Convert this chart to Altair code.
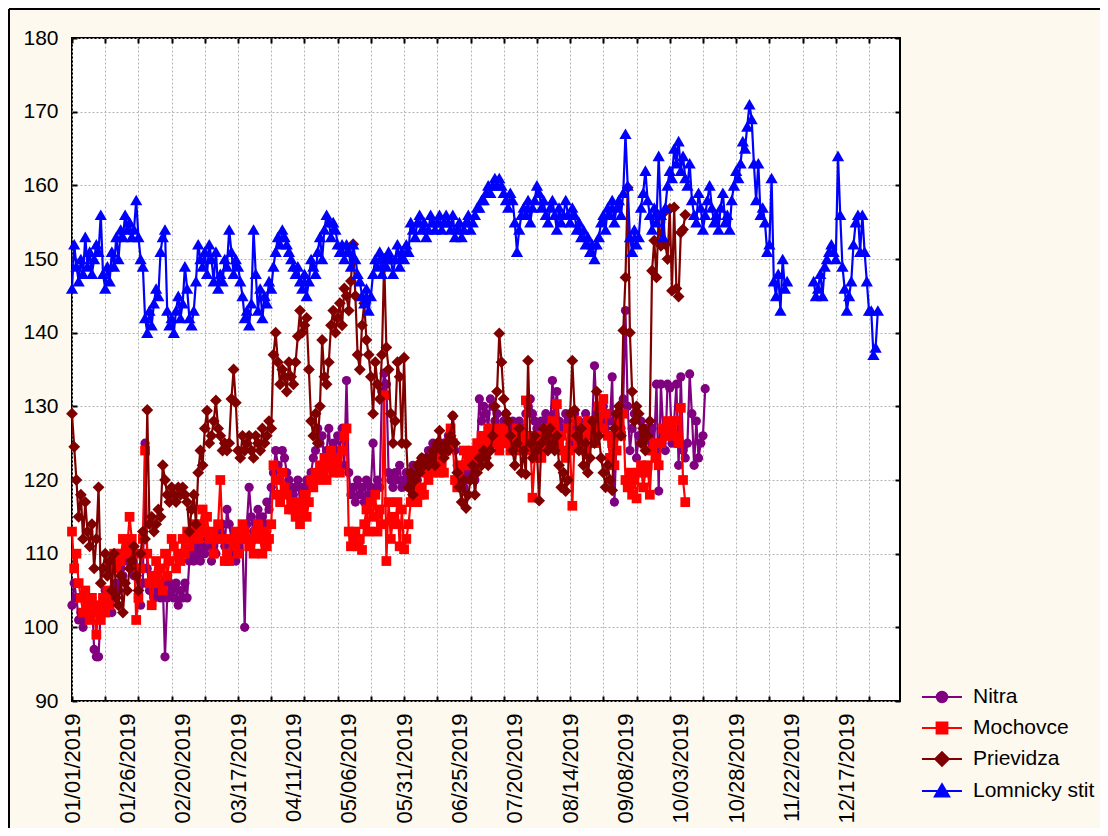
import altair as alt
import pandas as pd

# ---------------- data (daily values, day 0 = 01/01/2019) ----------------
start_year, start_month, start_day = 2019, 0, 1

nitra = [
    103, 106, 104, 101, 102, 100, 101, 103, 102, 104,
    97, 96, 96, 103, 104, 105, 103, 104, 102, 104,
    106, 105, 108, 107, 110, 109, 112, 108, 107, 110,
    104, 103, 106, 125, 108, 105, 103, 104, 107, 105,
    104, 106, 96, 104, 106, 105, 104, 106, 103, 105,
    104, 106, 104, 109, 110, 109, 111, 110, 109, 111,
    110, 112, 111, 109, 111, 110, 112, 113, 114, 111,
    116, 114, 112, 110, 109, 111, 113, 112, 100, 114,
    119, 115, 113, 114, 116, 112, 115, 114, 117, 116,
    119, 121, 124, 122, 120, 124, 123, 121, 120, 119,
    118, 119, 120, 117, 119, 118, 120, 119, 121, 123,
    124, 127, 125, 126, 122, 124, 127, 123, 125, 124,
    126, 124, 127, 122, 133.5, 121, 118, 119, 117, 120,
    118, 119, 117, 120, 118, 119, 125, 118, 120, 119,
    132, 134.5, 133, 121, 120, 119, 121, 120, 122, 119,
    120, 121, 119, 120, 122, 121, 120, 122, 123, 121,
    122, 124, 123, 125, 124, 123, 125, 124, 125, 124,
    126, 125, 128.7, 124, 122, 121, 120, 119, 121, 120,
    121, 122, 120, 124, 131, 128, 130, 129, 127, 131,
    130, 128, 129, 127, 126, 128, 129, 127, 126, 128,
    125, 127, 128, 126, 127, 129, 130, 131, 129, 128,
    127, 126, 128, 127, 129, 128, 127, 133.5, 129, 132,
    128, 126, 127, 129, 128, 125, 127, 129, 126, 128,
    127, 126, 129, 128, 127, 128, 135.5, 129, 127, 128,
    130, 127, 129, 128, 134, 117, 126, 128, 127, 131,
    143, 130, 124, 127, 129, 123, 126, 128, 125, 127,
    126, 124, 127, 125, 133, 118.5, 133, 127, 124, 133,
    132.5, 125, 128, 133, 122, 134, 124, 123, 125, 134.4,
    129, 122, 128, 123, 125, 126, 132.4,
]

mochovce = [
    113, 108, 110, 106, 104, 102, 105, 103, 101, 104,
    102, 99, 103, 101, 104, 102, 105, 103, 108, 110,
    108, 110, 109, 112, 110, 111, 115, 112, 110, 101,
    104, 108, 112, 124, 110, 106, 103, 107, 109, 106,
    108, 105, 110, 107, 109, 112, 111, 108, 110, 109,
    112, 110, 113, 111, 112, 114, 113, 112, 114, 116,
    113, 115, 112, 113, 110, 112, 114, 120, 112, 109,
    110, 109, 112, 111, 113, 110, 112, 114, 113, 112,
    111, 112, 110, 113, 114, 112, 110, 113, 111, 112,
    114, 122, 120, 118, 117, 121, 119, 118, 116, 117,
    116, 115, 117, 114, 116, 118, 115, 117, 120, 119,
    121, 120, 122, 121, 123, 120, 122, 124, 121, 122,
    123, 121, 124, 126, 127, 113, 111, 112, 113, 111,
    112, 110.5, 114, 116, 113, 117, 115, 118, 113, 116,
    114, 131.5, 109, 117, 112, 115, 114, 117, 111, 116,
    110.6, 112, 114, 117, 118, 119, 117, 118, 119, 118,
    121, 120, 122, 121, 122, 123, 121, 122, 121, 124,
    125, 127, 125, 120, 119, 121, 122, 124, 122, 123,
    122, 124, 123, 125, 124, 126, 125, 124, 127, 126,
    125, 127, 126, 124, 125, 127, 126, 125, 124, 126,
    125, 127, 126, 124, 125, 130.8, 124, 126, 117.6, 123,
    126, 125, 123, 124, 127, 125, 126, 128, 127, 130.3,
    125, 126, 124, 123, 127, 124, 116.5, 126, 128, 125,
    127, 126, 124, 128, 127, 126, 125, 128, 130, 127,
    131, 129, 126, 123, 125, 122, 124, 128, 126, 129,
    120, 119, 121, 118, 120, 117.5, 121, 122, 119, 121,
    122, 118, 124, 125, 123, 122, 125, 127, 126, 128,
    126, 127, 128, 126, 125, 129.8, 120, 117,
]

prievidza = [
    129, 124.5, 120, 115, 118, 112, 117, 113, 111, 114,
    108, 112, 119, 106, 108, 110, 107, 109, 105, 110,
    104, 103, 107, 102, 106, 105, 108, 109, 111, 107,
    105, 110, 113, 112, 129.5, 114, 115, 113, 114, 116,
    115, 122, 120, 118, 117, 119, 118, 117, 119, 118,
    119, 118, 117, 113, 116, 118, 114, 121, 124, 122,
    127, 129.4, 125, 126, 128, 130.8, 127, 126, 124, 125,
    124, 125, 131, 135, 130.5, 124, 123, 126, 124, 125,
    126, 124, 123, 126, 125, 124, 127, 125, 126, 128,
    127, 137, 140, 136, 133, 135, 134, 132, 136, 134,
    133, 136, 139.5, 143, 140, 141, 142, 135, 128, 126,
    129, 125, 130, 139, 134, 133, 136, 141, 143, 140,
    142, 144, 141, 146, 145, 143, 147, 152, 145, 137,
    135, 141, 144, 139, 137, 134, 129, 136, 133, 131,
    137, 150, 138, 135, 129, 125, 128, 136, 134, 125,
    136.6, 124.9, 119, 121, 118, 120, 122, 121, 123, 122,
    123, 122, 123, 124, 122, 125, 126.7, 124, 123, 125,
    124, 126, 128.7, 125, 121, 119, 117, 120, 116.2, 118,
    120, 122, 118, 121, 123, 122, 124, 123, 122, 124,
    126, 130, 132, 139.9, 136, 131, 129, 128, 126, 124,
    122, 125, 127, 121, 124, 120.8, 136.2, 125, 123, 126,
    124, 117.2, 125, 127, 126, 124, 127, 125, 124, 126,
    122, 119, 121, 118.5, 120, 129, 136.2, 129.5, 126, 124,
    127, 122, 125, 121, 123, 128, 125, 132, 126, 123,
    121, 119, 122, 120, 118.6, 127, 129, 130, 126, 140.3,
    147.5, 159.7, 140, 132, 128, 130, 129, 125, 127, 124,
    126, 128, 148.4, 152.5, 147.5, 155.9, 151.8, 156.2, 152, 150,
    156.8, 145.7, 157, 146, 144.9, 153.6, 154, 156,
]

lomnicky_part1 = [
    146, 152, 149, 147, 150, 148, 153, 149, 151, 148,
    150, 152, 151, 156, 148, 146, 149, 147, 151, 149,
    153, 150, 154, 153, 156, 154, 155, 153, 154, 158,
    153, 150, 149, 142, 140, 143, 141, 144, 146, 145,
    151, 153, 154, 143, 141, 142, 140, 143, 145, 142,
    144, 149, 146, 142, 141, 143, 147, 152, 150, 149,
    151, 148, 152, 150, 147, 151, 146, 148, 147, 150,
    149, 154, 151, 148, 150, 149, 147, 145, 142, 143,
    141, 144, 154, 148, 143, 146, 142, 145, 144, 147,
    146, 149, 151, 153, 152, 154, 153, 152, 151, 150,
    149, 148, 149, 147, 146, 148, 145, 147, 150, 149,
    148, 151, 153, 150, 154, 156, 155, 153, 155, 154,
    152, 151, 152, 150, 152, 151, 149, 152, 150, 148,
    147, 145, 144, 146, 143, 145, 148, 150, 149, 151,
    148, 150, 149, 151, 150, 148, 150, 152, 149, 151,
    150, 152, 151, 155, 154, 153, 155, 156, 154, 155,
    153, 154, 156, 155, 154, 155, 156, 154, 155, 156,
    155, 154, 156, 153, 154, 155, 153, 154, 155, 156,
    154, 155, 156, 157, 157, 158, 158, 159, 160, 159,
    160, 161, 160, 161, 160, 159, 158, 157, 159, 158,
    155, 151, 154, 156, 157, 156, 158, 155, 157, 158,
    160, 159, 157, 158, 156, 155, 157, 158, 156, 154,
    157, 155, 156, 158, 156, 155, 157, 156, 154, 155,
    153, 154, 152, 153, 151, 152, 150, 152, 153, 155,
    156, 154, 157, 156, 158, 155, 157, 158, 156, 159,
    167, 160, 153, 151, 154, 152, 153, 157, 159, 162,
    158, 156, 154, 157, 155, 164, 156, 153, 157, 160,
    162, 161, 165, 163, 166, 162, 164, 161, 160, 163,
    158, 156, 155, 159, 157, 154, 156, 158, 160, 157,
    155, 156, 154, 157, 159, 155, 156, 154, 158, 160,
    162, 161, 163, 166, 165, 168, 171, 169, 163, 158,
    163, 156, 157, 155, 151, 152, 161, 147, 145, 148,
    143, 150, 146, 147,
]
lomnicky_part2_start = 335
lomnicky_part2 = [
    147, 145, 146, 148, 145, 149, 150, 151, 152, 151,
    150, 164, 156, 149, 146, 143, 145, 147, 152, 155,
    156, 151, 156, 151, 147, 143, 143, 137, 138, 143,
]

series_names = ["Nitra", "Mochovce", "Prievidza", "Lomnicky stit"]
series_colors = ["#800080", "#FF0000", "#800000", "#0000FF"]
marker_shapes = ["circle", "square", "diamond", "triangle-up"]
marker_sizes = [85, 95, 140, 150]
legend_paths = [
    "M-1,0H1M0.26,0A0.26,0.26 0 1,1 -0.26,0A0.26,0.26 0 1,1 0.26,0Z",
    "M-1,0H1M-0.27,-0.27H0.27V0.27H-0.27Z",
    "M-1,0H1M0,-0.34L0.34,0L0,0.34L-0.34,0Z",
    "M-1,0H1M0,-0.34L0.36,0.28H-0.36Z",
]

y_tick_values = list(range(90, 181, 10))
grid_step = 15
label_step = 25
x_last_day = 374

# ---------------- table ----------------
rows = []
def add(name, values, start=0, seg=0):
    for i, v in enumerate(values):
        rows.append({"series": name, "day": start + i, "value": v, "seg": seg})

add("Nitra", nitra)
add("Mochovce", mochovce)
add("Prievidza", prievidza)
add("Lomnicky stit", lomnicky_part1, 0, 0)
add("Lomnicky stit", lomnicky_part2, lomnicky_part2_start, 1)
df = pd.DataFrame(rows)

grid_values = list(range(0, x_last_day, grid_step))
tick_values = sorted(set(grid_values) | set(range(0, x_last_day - 20, label_step)))

label_expr = (
    f"datum.value % {label_step} === 0 ? "
    f"timeFormat(datetime({start_year}, {start_month}, {start_day} + datum.value), '%m/%d/%Y') : ''"
)

x_scale = alt.Scale(domain=[0, x_last_day], nice=False, zero=False)
y_scale = alt.Scale(domain=[90, 180], nice=False, zero=False)

main_x_axis = alt.Axis(
    values=tick_values, title=None, ticks=False, domain=False, grid=True,
    gridOpacity={"condition": {"test": f"datum.value % {grid_step} === 0", "value": 1}, "value": 0},
    labelExpr=label_expr, labelAngle=-90, labelPadding=12, labelOverlap=False,
    labelFlush=False, labelFontSize=22, orient="bottom",
)
main_y_axis = alt.Axis(
    values=y_tick_values, title=None, ticks=False, domain=False, grid=True,
    labelPadding=14, labelFlush=False, orient="left",
)


def tick_axis(values, orient):
    return alt.Axis(values=values, title=None, labels=False, domain=False, grid=False,
                    ticks=True, tickSize=5, tickWidth=2, tickColor="black",
                    offset=-5, orient=orient)


layers = []
for name, color, shape, size in zip(series_names, series_colors, marker_shapes, marker_sizes):
    sub = alt.Chart(df).transform_filter(alt.datum.series == name).encode(
        x=alt.X("day:Q", scale=x_scale, axis=None),
        y=alt.Y("value:Q", scale=y_scale, axis=None),
    )
    layers.append(sub.mark_line(color=color, strokeWidth=2.2).encode(detail="seg:N"))
    layers.append(sub.mark_point(shape=shape, filled=True, size=size, color=color, opacity=1))

# empty layers that only carry the axes (main labels/grid, inner ticks on each side)
empty = alt.Chart(df).transform_filter("false").mark_point()
axis_main = empty.encode(x=alt.X("day:Q", scale=x_scale, axis=main_x_axis),
                         y=alt.Y("value:Q", scale=y_scale, axis=main_y_axis))
axis_ticks_a = empty.encode(x=alt.X("day:Q", scale=x_scale, axis=tick_axis(grid_values, "bottom")),
                            y=alt.Y("value:Q", scale=y_scale, axis=tick_axis(y_tick_values, "left")))
axis_ticks_b = empty.encode(x=alt.X("day:Q", scale=x_scale, axis=tick_axis(grid_values, "top")),
                            y=alt.Y("value:Q", scale=y_scale, axis=tick_axis(y_tick_values, "right")))

leg_df = pd.DataFrame({"series": series_names})
legend_layer = alt.Chart(leg_df).mark_point(filled=True, clip=True, strokeWidth=2, opacity=1).encode(
    x=alt.value(-1000),
    y=alt.value(-1000),
    fill=alt.Fill("series:N", scale=alt.Scale(domain=series_names, range=series_colors), legend=alt.Legend(title=None)),
    stroke=alt.Stroke("series:N", scale=alt.Scale(domain=series_names, range=series_colors), legend=alt.Legend(title=None)),
    shape=alt.Shape("series:N", scale=alt.Scale(domain=series_names, range=legend_paths), legend=alt.Legend(title=None)),
)

frame_df = pd.DataFrame({"k": [0]})
frame_top = alt.Chart(frame_df).mark_rule(color="black", strokeWidth=2).encode(
    x=alt.value(-63), x2=alt.value(1030), y=alt.value(-29))
frame_left = alt.Chart(frame_df).mark_rule(color="black", strokeWidth=2).encode(
    x=alt.value(-63), y=alt.value(-29), y2=alt.value(800))

chart = alt.layer(
    axis_main, axis_ticks_a, axis_ticks_b, *layers, legend_layer, frame_top, frame_left
).resolve_axis(x="independent", y="independent").properties(
    width=828,
    height=663,
    padding={"left": 64, "top": 30, "right": 200, "bottom": 127},
    autosize=alt.AutoSizeParams(type="none"),
    background="#FEF9EF",
).configure_view(
    fill="white", stroke="black", strokeWidth=2
).configure_axis(
    labelFont="Liberation Sans", labelFontSize=21, labelColor="black",
    gridColor="#B4B4B4", gridDash=[2, 2], gridWidth=1,
).configure_legend(
    orient="none", legendX=849, legendY=638, padding=0,
    labelFont="Liberation Sans", labelFontSize=21, labelColor="black",
    symbolSize=1600, symbolStrokeWidth=2, labelOffset=10, rowPadding=0,
)

chart.save("out.html", embed_options={"renderer": "svg", "actions": False})
